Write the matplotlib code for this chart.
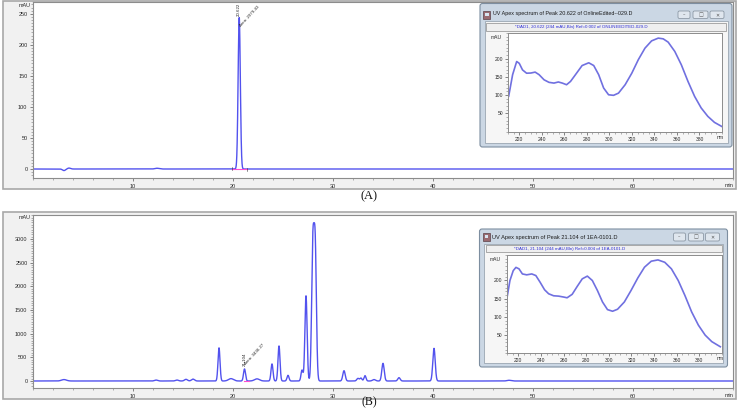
import numpy as np
import matplotlib
matplotlib.use("Agg")
import matplotlib.pyplot as plt
from matplotlib.patches import Rectangle, FancyBboxPatch
from matplotlib.ticker import MultipleLocator, FixedLocator

# ---------------- data ----------------
# Chromatogram A: peaks (retention time [min], height [mAU], sigma [min])
a_rt = [3.1, 3.6, 12.4, 20.622]
a_height = [-2.5, 1.5, 1.2, 244.0]
a_sigma = [0.15, 0.15, 0.2, 0.11]
a_peak_label = "20.622"
a_area_label = "Area: 2979.43"

# Chromatogram B: peaks
b_rt = [3.1, 12.3, 14.4, 15.3, 16.0, 18.6, 19.8, 21.15, 22.4, 23.9, 24.6,
        25.5, 26.9, 27.3, 27.98, 28.22, 31.1, 32.5, 32.8, 33.2, 34.1, 35.0,
        36.6, 40.1, 47.6]
b_height = [30, 20, 20, 35, 40, 700, 50, 255, 45, 360, 740,
            120, 230, 1800, 2757, 2757, 218, 55, 60, 113, 30, 373,
            70, 690, 15]
b_sigma = [0.25, 0.15, 0.15, 0.15, 0.15, 0.1, 0.25, 0.1, 0.25, 0.1, 0.1,
           0.1, 0.1, 0.11, 0.12, 0.12, 0.12, 0.12, 0.1, 0.1, 0.15, 0.12,
           0.12, 0.12, 0.2]
b_peak_label = "21.104"
b_area_label = "Area: 3436.27"

# UV spectra (wavelength [nm], absorbance [mAU])
spec_a_nm = [210.6, 214.1, 217.7, 220.0, 222.9, 226.5, 230.3, 234.1, 237.6, 242.0,
             246.4, 250.8, 254.7, 258.2, 262.0, 265.5, 269.9, 275.8, 281.7, 286.1,
             290.5, 294.9, 299.3, 303.7, 308.1, 314.0, 319.9, 325.7, 331.6, 337.5,
             343.4, 347.8, 352.2, 358.1, 363.9, 369.8, 375.7, 381.5, 387.4, 393.3, 399.7]
spec_a_mau = [97, 156, 192, 187, 169, 160, 160.5, 163, 156, 142,
              135, 133, 136, 133, 128.5, 137.5, 156, 181, 188.5, 181,
              156, 119.5, 101, 99.5, 105.5, 128.5, 160, 197, 228.5, 248.5,
              256, 254, 245, 219.5, 183, 137.5, 96.5, 65, 42, 25.5, 14.5]

spec_b_nm = [209.6, 212.6, 215.5, 217.9, 220.6, 223.6, 227.4, 231.9, 235.5, 239.3,
             243.2, 246.8, 251.2, 255.7, 260.1, 263.1, 267.6, 272.0, 276.5, 281.0,
             285.4, 289.9, 294.4, 298.8, 303.3, 307.7, 313.7, 319.6, 325.6, 331.5,
             337.5, 343.4, 349.4, 355.3, 361.3, 367.2, 373.2, 379.1, 385.1, 391.0, 398.5]
spec_b_mau = [145, 200, 227, 236, 232, 218, 215.5, 218, 213.5, 195,
              174.5, 163.5, 158, 157, 154.5, 152.5, 162, 183.5, 204.5, 212,
              200, 172.5, 141, 120, 115.5, 121, 141, 172.5, 207, 236.5,
              253, 256.5, 250, 232, 200, 159, 113.5, 77.5, 50, 32, 18]

title_a = "UV Apex spectrum of Peak 20.622 of OnlineEdited--029.D"
sub_a = "*DAD1, 20.622 (244 mAU,Bln) Ref=0.002 of ONLINEEDITED-029.D"
title_b = "UV Apex spectrum of Peak 21.104 of 1EA-0101.D"
sub_b = "*DAD1, 21.104 (244 mAU,Bln) Ref=0.004 of 1EA-0101.D"

chrom_xticks = [10, 20, 30, 40, 50, 60]
a_yticks = [0, 50, 100, 150, 200, 250]
b_yticks = [0, 500, 1000, 1500, 2000, 2500, 3000]
spec_xticks = [220, 240, 260, 280, 300, 320, 340, 360, 380]
spec_yticks = [50, 100, 150, 200]

# ---------------- layout helpers ----------------
W, H = 738, 408
fig = plt.figure(figsize=(W / 100, H / 100), dpi=100)
plt.rcParams['font.family'] = ['Liberation Sans', 'DejaVu Sans']


def ax_px(x0, y0, x1, y1, **kw):
    return fig.add_axes([x0 / W, 1 - y1 / H, (x1 - x0) / W, (y1 - y0) / H], **kw)


LINE = '#5252ee'
SPEC = '#7070e0'
TXT = '#2a2a2a'

# background (panel frames)
bg = ax_px(0, 0, W, H, zorder=-2)
bg.set_xlim(0, W); bg.set_ylim(H, 0); bg.axis('off')
for (y0, y1) in [(1, 189), (212, 399)]:
    bg.add_patch(Rectangle((2.5, y0), 733, y1 - y0, facecolor='#f1f1f1',
                           edgecolor='#a8a8a8', lw=1.2))
bg.text(369, 196.5, "(A)", ha='center', va='center', fontsize=9,
        family='Liberation Serif', color='#111')
bg.text(369, 405.5, "(B)", ha='center', va='baseline', fontsize=8.5,
        family='Liberation Serif', color='#111')


def style_chrom(ax, yticks, ylim, yminor, unit_y):
    ax.set_facecolor('white')
    ax.set_xlim(0, 70)
    ax.set_ylim(*ylim)
    for s in ax.spines.values():
        s.set_color('#8c8c8c'); s.set_linewidth(0.8)
    ax.xaxis.set_major_locator(FixedLocator(chrom_xticks))
    ax.xaxis.set_minor_locator(MultipleLocator(2))
    ax.yaxis.set_major_locator(FixedLocator(yticks))
    ax.yaxis.set_minor_locator(MultipleLocator(yminor))
    ax.tick_params(which='major', direction='out', length=2.2, width=0.5,
                   color='#555', labelsize=4, labelcolor=TXT, pad=1.8)
    ax.tick_params(which='minor', direction='out', length=1.3, width=0.4, color='#777')
    ax.text(69.6, -0.028, "min", transform=ax.get_xaxis_transform(),
            ha='center', va='top', fontsize=4, color=TXT)
    ax.text(-0.004, unit_y, "mAU", transform=ax.get_yaxis_transform(),
            ha='right', va='center', fontsize=4, color=TXT)


t = np.linspace(0, 70, 14001)


def trace(rt, h, s):
    y = np.zeros_like(t)
    for r, hh, ss in zip(rt, h, s):
        y += hh * np.exp(-0.5 * ((t - r) / ss) ** 2)
    return y

# ---------------- chromatogram A ----------------
axA = ax_px(33, 2, 733, 178, zorder=0)
style_chrom(axA, a_yticks, (-14.5, 269), 5, 264)
axA.plot(t, trace(a_rt, a_height, a_sigma), color=LINE, lw=1.0)
axA.plot([19.9, 21.35], [0.8, 0.8], color='#ff4fd0', lw=0.8)
axA.plot([19.9, 19.9], [-1, 3], color='#333', lw=0.4)
axA.plot([21.4, 21.4], [-3, 1], color='#333', lw=0.4)
axA.annotate(a_peak_label, xy=(a_rt[-1], a_height[-1]), xytext=(0, 1),
             textcoords='offset points', rotation=90, ha='center', va='bottom',
             fontsize=3.2, color=TXT, annotation_clip=False, clip_on=True)
axA.text(20.85, 228, a_area_label, rotation=47, rotation_mode='anchor',
         ha='left', va='bottom', fontsize=3.2, color=TXT)

# ---------------- chromatogram B ----------------
axB = ax_px(33, 215, 733, 388, zorder=0)
style_chrom(axB, b_yticks, (-148, 3507), 50, 3464)
axB.plot(t, trace(b_rt, b_height, b_sigma), color=LINE, lw=1.0)
axB.plot([21.1, 21.6], [-10, -10], color='#ff4fd0', lw=0.8)
axB.annotate(b_peak_label, xy=(b_rt[7], b_height[7]), xytext=(0.3, 2),
             textcoords='offset points', rotation=90, ha='center', va='bottom',
             fontsize=3.2, color=TXT)
axB.text(21.35, 330, b_area_label, rotation=47, rotation_mode='anchor',
         ha='left', va='bottom', fontsize=3.2, color=TXT)

# ---------------- inset windows chrome ----------------
ov = ax_px(0, 0, W, H, zorder=2)
ov.set_xlim(0, W); ov.set_ylim(H, 0); ov.axis('off')


def window(x0, y0, x1, y1, title_y, band, title, sub, btn_y, fs_title):
    ov.add_patch(FancyBboxPatch((x0, y0), x1 - x0, y1 - y0,
                                boxstyle='round,pad=0,rounding_size=2.5',
                                facecolor='#cbd7e4', edgecolor='#7d8ea0', lw=0.8))
    ov.add_patch(Rectangle((x0 + 4.5, band[0] - 1.5), x1 - x0 - 9,
                           y1 - 4.5 - band[0] + 1.5, facecolor='#f6f6f6',
                           edgecolor='#9aa6b2', lw=0.6))
    ov.add_patch(Rectangle((x0 + 6, band[0]), x1 - x0 - 12, band[1] - band[0],
                           facecolor='#efefef', edgecolor='#9c9c9c', lw=0.6))
    # icon
    ov.add_patch(Rectangle((x0 + 3, btn_y[0]), 7, btn_y[1] - btn_y[0],
                           facecolor='#9a6a70', edgecolor='#5a4048', lw=0.5))
    ov.add_patch(Rectangle((x0 + 5, btn_y[0] + 2), 3.5, 3,
                           facecolor='#d8e4f0', edgecolor='none'))
    ov.text(x0 + 13, title_y, title, ha='left', va='center', fontsize=fs_title,
            color='#1a1a1a')
    ov.text(x0 + 35, (band[0] + band[1]) / 2, sub, ha='left', va='center',
            fontsize=3.2, color='#2b2bd6')
    # buttons
    bx = [(x1 - 54, x1 - 42), (x1 - 39, x1 - 24), (x1 - 22, x1 - 8)]
    syms = ['\u2013', '\u25a1', '\u2715']
    for (a, b), s in zip(bx, syms):
        ov.add_patch(FancyBboxPatch((a, btn_y[0]), b - a, btn_y[1] - btn_y[0],
                                    boxstyle='round,pad=0,rounding_size=1.5',
                                    facecolor='#dfe6ee', edgecolor='#7f8c99', lw=0.5))
        ov.text((a + b) / 2, (btn_y[0] + btn_y[1]) / 2, s, ha='center', va='center',
                fontsize=3.5, color='#555', family='DejaVu Sans')


window(480, 3.5, 732, 147, 14, (22.7, 31), title_a, sub_a, (11, 18.5), 3.9)
window(479.5, 229, 727.5, 367, 237, (245, 252.3), title_b, sub_b, (233, 241), 4.1)


def style_spec(ax):
    ax.set_facecolor('white')
    ax.set_xlim(210, 400)
    ax.set_ylim(0, 270)
    for s in ax.spines.values():
        s.set_color('#8c8c8c'); s.set_linewidth(0.7)
    ax.xaxis.set_major_locator(FixedLocator(spec_xticks))
    ax.xaxis.set_minor_locator(MultipleLocator(5))
    ax.yaxis.set_major_locator(FixedLocator(spec_yticks))
    ax.yaxis.set_minor_locator(MultipleLocator(10))
    ax.tick_params(which='major', direction='out', length=2, width=0.5,
                   color='#555', labelsize=3.6, labelcolor=TXT, pad=1.5)
    ax.tick_params(which='minor', direction='out', length=1.2, width=0.4, color='#777')
    ax.text(398, -0.03, "nm", transform=ax.get_xaxis_transform(),
            ha='center', va='top', fontsize=3.6, color=TXT)
    ax.text(-0.03, 258, "mAU", transform=ax.get_yaxis_transform(),
            ha='right', va='center', fontsize=3.6, color=TXT)


sA = ax_px(508, 33, 722, 131.7, zorder=3)
style_spec(sA)
sA.plot(spec_a_nm, spec_a_mau, color=SPEC, lw=1.2)

sB = ax_px(507, 255, 722, 353.3, zorder=3)
style_spec(sB)
sB.plot(spec_b_nm, spec_b_mau, color=SPEC, lw=1.2)

fig.savefig("out.png", dpi=100)
